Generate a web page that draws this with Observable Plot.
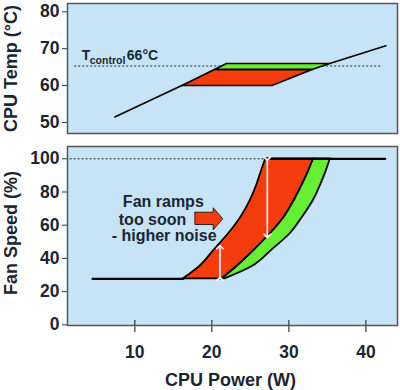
<!DOCTYPE html>
<html><head><meta charset="utf-8">
<script src="https://cdn.jsdelivr.net/npm/d3@7"></script>
<script src="https://cdn.jsdelivr.net/npm/@observablehq/plot@0.6"></script>
<style>
body{margin:0;background:#fff;}
#chart{width:400px;height:390px;}
#chart svg{display:block;}
</style></head><body><div id="chart"></div>
<script>
// ---- axis ticks ----
const powerTicks = [10, 20, 30, 40];
const tempTicks = [50, 60, 70, 80];
const fanTicks = [0, 20, 40, 60, 80, 100];
const powerDomain = [1.26, 44.1];
const tempDomain = [47.0, 82.25];
const fanDomain = [-0.4, 107.4];

// ---- top panel: CPU temperature (W, °C) ----
const controlTemp = 65.3;
const controlSpan = [2.2, 42.2];
const heatLine = [[7.4, 51.5], [16.1, 60]];
const hotLine = [[35.3, 66], [42.6, 70.8]];
const redTemp = [[16.1, 60], [27.8, 60], [33.1, 64.4], [20.4, 64.4]];
const greenTemp = [[20.4, 64.4], [33.1, 64.4], [35.3, 66], [21.9, 66]];
const controlLabel = [
  {t: "T", x: 3.1, y: 68.1, s: 14},
  {t: "control", x: 4.15, y: 66.8, s: 10.5},
  {t: "66°C", x: 8.96, y: 68.2, s: 14}
];

// ---- bottom panel: fan speed (W, %) ----
const fanLevels = [27.7, 35, 45, 55, 65, 75, 85, 92, 100];
const earlyCurve = [16.3, 18.4, 20.3, 22.2, 23.8, 25.0, 25.9, 26.4, 27.0];
const idealCurve = [21.3, 23.2, 25.5, 27.6, 29.4, 30.7, 31.8, 32.5, 33.2];
const lateCurve = [21.7, 25.2, 27.8, 30.2, 31.8, 33.2, 34.2, 34.8, 35.4];
const idleLine = [[4.5, 27.7], [16.3, 27.7]];
const maxLine = [[27.0, 100], [42.5, 100]];
const maxDotted = [1.6, 27.0];
const gapArrows = [
  {x: 27.2, y1: 100, y2: 53.5},
  {x: 21.05, y1: 27.7, y2: 46.8}
];
const rampArrow = [[17.8, 67.8], [20.18, 67.8], [20.18, 70.5], [21.4, 63.9], [20.18, 57.2], [20.18, 60.4], [17.8, 60.4], [17.8, 67.8]];
const noteLines = [
  {t: "Fan ramps", x: 13.7, y: 73.9},
  {t: "too soon", x: 12.3, y: 63.4},
  {t: "- higher noise", x: 13.8, y: 53.8}
];

const RED = "#f43c0c", GREEN = "#66ee33", BG = "#c6e4f6", INK = "#1b2631";
const font = "'Liberation Sans', Arial, sans-serif";
const close = a => [...a, a[0]];

const tempPlot = Plot.plot({
  width: 400, height: 140,
  marginLeft: 67, marginRight: 3, marginTop: 3, marginBottom: 7,
  style: {fontFamily: font, color: INK, background: "transparent", overflow: "visible"},
  x: {domain: powerDomain, axis: null},
  y: {domain: tempDomain, axis: null},
  marks: [
    Plot.frame({fill: BG, stroke: null}),
    Plot.axisY({ticks: tempTicks, tickSize: 5, tickPadding: 3, fontSize: 17.5, fontWeight: "bold", label: null, stroke: "#333"}),
    Plot.ruleY([controlTemp], {x1: controlSpan[0], x2: controlSpan[1], stroke: "#222", strokeWidth: 1, strokeDasharray: "2,2"}),
    Plot.line(heatLine, {x: d => d[0], y: d => d[1], stroke: "#000", strokeWidth: 1.6}),
    Plot.line(hotLine, {x: d => d[0], y: d => d[1], stroke: "#000", strokeWidth: 1.6}),
    Plot.line(close(redTemp), {x: d => d[0], y: d => d[1], fill: RED, stroke: "#000", strokeWidth: 1.6}),
    Plot.line(close(greenTemp), {x: d => d[0], y: d => d[1], fill: GREEN, stroke: "#000", strokeWidth: 1.6}),
    Plot.text(controlLabel, {x: "x", y: "y", text: "t", fontSize: d => d.s, textAnchor: "start", lineAnchor: "middle", fontWeight: "bold", fill: INK}),
    Plot.text(["CPU Temp (°C)"], {text: d => d, frameAnchor: "left", textAnchor: "middle", dx: -56, rotate: -90, fontSize: 18, fontWeight: "bold", lineAnchor: "middle", fill: INK}),
    Plot.frame({stroke: "#555", strokeWidth: 1.5})
  ]
});

const fanRows = fanLevels.map((f, i) => ({f, a: earlyCurve[i], b: idealCurve[i], c: lateCurve[i]}));

const fanPlot = Plot.plot({
  width: 400, height: 250,
  marginLeft: 67, marginRight: 3, marginTop: 6, marginBottom: 65,
  style: {fontFamily: font, color: INK, background: "transparent", overflow: "visible"},
  x: {domain: powerDomain, axis: null},
  y: {domain: fanDomain, axis: null},
  marks: [
    Plot.frame({fill: BG, stroke: null}),
    Plot.axisY({ticks: fanTicks, tickSize: 5, tickPadding: 3, fontSize: 17.5, fontWeight: "bold", label: null, stroke: "#333"}),
    Plot.axisX({ticks: powerTicks, tickSize: 0, tickPadding: 20, fontSize: 17.5, fontWeight: "bold", label: null}),
    Plot.tickX(powerTicks, {x: d => d, insetTop: 174, insetBottom: -7, stroke: "#333", strokeWidth: 1.2}),
    Plot.ruleY([100], {x1: maxDotted[0], x2: maxDotted[1], stroke: "#222", strokeWidth: 1, strokeDasharray: "2,2"}),
    Plot.line(idleLine, {x: d => d[0], y: d => d[1], stroke: "#000", strokeWidth: 2.2}),
    Plot.areaX(fanRows, {y: "f", x1: "b", x2: "c", fill: GREEN, stroke: "#000", strokeWidth: 1.8, curve: "monotone-y"}),
    Plot.areaX(fanRows, {y: "f", x1: "a", x2: "b", fill: RED, stroke: "#000", strokeWidth: 1.8, curve: "monotone-y"}),
    Plot.line(maxLine, {x: d => d[0], y: d => d[1], stroke: "#000", strokeWidth: 2.2}),
    Plot.link(gapArrows, {x1: "x", x2: "x", y1: "y1", y2: "y2", stroke: "#fff", strokeWidth: 1.6, markerStart: "arrow", markerEnd: "arrow"}),
    Plot.line(rampArrow, {x: d => d[0], y: d => d[1], fill: RED, stroke: "#3a1a10", strokeWidth: 1}),
    Plot.text(noteLines, {x: "x", y: "y", text: "t", fontSize: 16, fontWeight: "bold", lineAnchor: "middle", fill: INK}),
    Plot.text(["Fan Speed (%)"], {text: d => d, frameAnchor: "left", textAnchor: "middle", dx: -56, dy: -3, rotate: -90, fontSize: 18, fontWeight: "bold", lineAnchor: "middle", fill: INK}),
    Plot.text(["CPU Power (W)"], {text: d => d, frameAnchor: "bottom", textAnchor: "middle", dx: -2, dy: 54.5, fontSize: 18, fontWeight: "bold", lineAnchor: "middle", fill: INK}),
    Plot.frame({stroke: "#555", strokeWidth: 1.5})
  ]
});

document.getElementById("chart").append(tempPlot, fanPlot);
</script></body></html>
